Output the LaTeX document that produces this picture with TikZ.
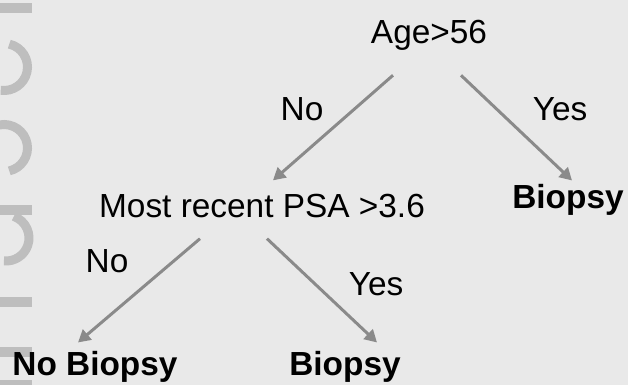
\documentclass[tikz,border=0pt]{standalone}
\usepackage{fontspec}
\setmainfont{Liberation Sans}
\usetikzlibrary{arrows.meta}
\definecolor{SlideGray}{HTML}{E9E9E9}
\definecolor{MarkGray}{HTML}{BEBEBE}
\definecolor{ArrowGray}{HTML}{8A8A8A}

\begin{document}
\begin{tikzpicture}[
    txt/.style={inner sep=0pt,anchor=base,font=\fontsize{19}{23}\selectfont},
    leaf/.style={txt,font=\fontsize{19}{23}\selectfont\bfseries},
    arr/.style={-{Triangle[length=7pt,width=7.5pt]},line width=1.7pt,ArrowGray},
    wm/.style={MarkGray,line width=0.18cm},
  ]
  \fill[SlideGray] (0,0) rectangle (12.56,-7.7);
  \useasboundingbox (0,0) rectangle (12.56,-7.7);
  % faint watermark on the left edge
  \fill[MarkGray] (0,-0.06) rectangle (0.64,-0.26);
  \draw[wm] (0.08,-1.34) ++(77:0.47) arc[start angle=77,end angle=-98,radius=0.47];
  \draw[wm] (0.08,-2.96) ++(100:0.47) arc[start angle=100,end angle=-77,radius=0.47];
  \fill[MarkGray] (0,-4.1) rectangle (0.64,-4.3);
  \draw[wm] (0.12,-4.76) ++(70:0.46) arc[start angle=70,end angle=-95,radius=0.46];
  \fill[MarkGray] (0,-5.94) rectangle (0.64,-6.14);
  \fill[MarkGray] (0,-6.94) rectangle (0.64,-7.14);
  \fill[MarkGray] (0,-7.6) rectangle (0.64,-7.7);

  % Splits
  \node[txt] (age) at (8.58,-0.86) {Age>56};
  \node[txt] (psa) at (5.24,-4.34) {Most recent PSA >3.6};
  % Leaves
  \node[leaf] (biopsyA)   at (11.36,-4.16) {Biopsy};
  \node[leaf] (nobiopsy)  at (1.90,-7.50)  {No Biopsy};
  \node[leaf] (biopsyB)   at (6.90,-7.50)  {Biopsy};
  % Branch labels
  \node[txt] (noA)  at (6.04,-2.40) {No};
  \node[txt] (yesA) at (11.20,-2.40) {Yes};
  \node[txt] (noB)  at (2.14,-5.44) {No};
  \node[txt] (yesB) at (7.52,-5.90) {Yes};

  \draw[arr] ([shift={(-0.72,-0.5)}]age.south) -- ([shift={(0.22,0.26)}]psa.north);
  \draw[arr] ([shift={(0.64,-0.5)}]age.south) -- ([shift={(0.08,0.06)}]biopsyA.north);
  \draw[arr] ([shift={(-1.24,-0.42)}]psa.south) -- ([shift={(-0.34,0.16)}]nobiopsy.north);
  \draw[arr] ([shift={(0.1,-0.42)}]psa.south) -- ([shift={(0.64,0.16)}]biopsyB.north);
\end{tikzpicture}
\end{document}
